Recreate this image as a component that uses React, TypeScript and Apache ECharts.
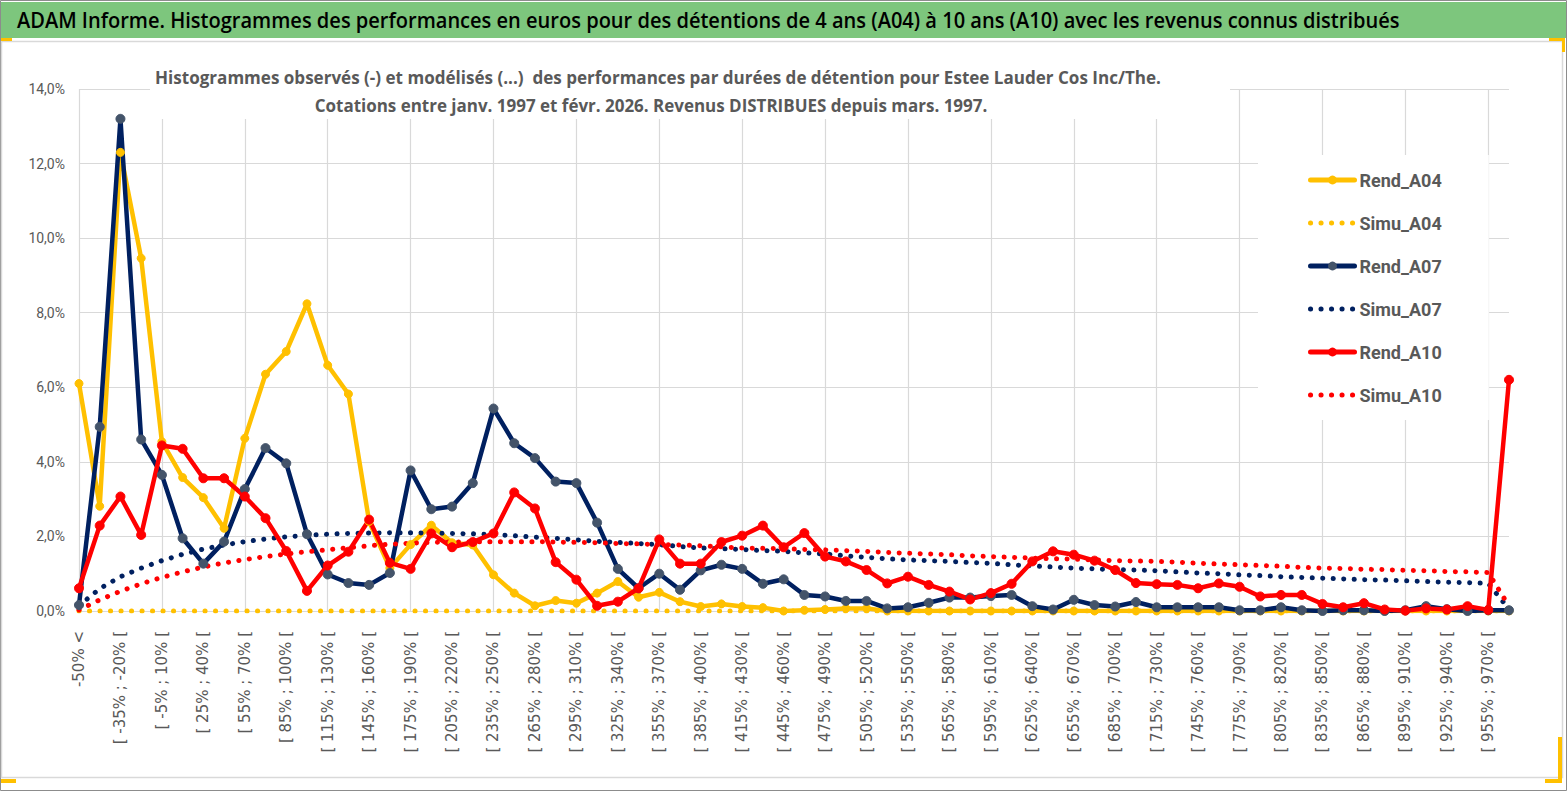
import React, { useEffect, useRef } from "react";
import * as echarts from "echarts";

// ---------- DATA ----------
const BIN_START = -50;
const BIN_STEP = 15;
const BIN_COUNT = 68;
const FIRST_LABEL = "-50% <";
const LAST_LABEL = "970% >";
const CATEGORIES: string[] = [
  FIRST_LABEL,
  ...Array.from({ length: BIN_COUNT }, (_, k) => `[ ${BIN_START + k * BIN_STEP}% ; ${BIN_START + (k + 1) * BIN_STEP}% [`),
  LAST_LABEL,
];

const Y_MIN = 0;
const Y_MAX = 14;
const Y_STEP = 2;

const REND_A04 = [
  6.10, 2.81, 12.3, 9.46, 4.54, 3.58, 3.04, 2.22, 4.63, 6.35,
  6.96, 8.24, 6.59, 5.82, 2.40, 1.15, 1.78, 2.30, 1.83, 1.77,
  0.97, 0.48, 0.14, 0.28, 0.21, 0.48, 0.79, 0.37, 0.50, 0.25,
  0.12, 0.19, 0.12, 0.09, 0.00, 0.02, 0.04, 0.07, 0.07, 0.00,
  0.00, 0.00, 0.00, 0.00, 0.00, 0.00, 0.00, 0.00, 0.00, 0.00,
  0.00, 0.00, 0.00, 0.00, 0.00, 0.00, 0.00, 0.00, 0.00, 0.00,
  0.00, 0.00, 0.00, 0.00, 0.00, 0.00, 0.00, 0.00, 0.00, 0.00,
];
const SIMU_A04 = [
  0, 0, 0, 0, 0, 0, 0, 0, 0, 0,
  0, 0, 0, 0, 0, 0, 0, 0, 0, 0,
  0, 0, 0, 0, 0, 0, 0, 0, 0, 0,
  0, 0, 0, 0, 0, 0, 0, 0, 0, 0,
  0, 0, 0, 0, 0, 0, 0, 0, 0, 0,
  0, 0, 0, 0, 0, 0, 0, 0, 0, 0,
  0, 0, 0, 0, 0, 0, 0, 0, 0, 0,
];
const REND_A07 = [
  0.16, 4.94, 13.2, 4.60, 3.65, 1.95, 1.27, 1.86, 3.27, 4.37,
  3.96, 2.06, 0.98, 0.75, 0.70, 1.02, 3.77, 2.73, 2.80, 3.43,
  5.43, 4.50, 4.10, 3.47, 3.43, 2.37, 1.13, 0.61, 1.00, 0.57,
  1.09, 1.24, 1.13, 0.73, 0.85, 0.43, 0.39, 0.27, 0.27, 0.07,
  0.10, 0.22, 0.36, 0.36, 0.40, 0.43, 0.13, 0.04, 0.30, 0.16,
  0.12, 0.24, 0.10, 0.10, 0.10, 0.10, 0.02, 0.02, 0.10, 0.02,
  0.00, 0.02, 0.02, 0.00, 0.02, 0.13, 0.05, 0.00, 0.02, 0.02,
];
const SIMU_A07 = [
  0.14, 0.60, 0.92, 1.15, 1.35, 1.52, 1.66, 1.77, 1.86, 1.93,
  1.99, 2.03, 2.06, 2.08, 2.09, 2.10, 2.10, 2.09, 2.08, 2.07,
  2.05, 2.02, 1.98, 1.95, 1.91, 1.87, 1.84, 1.81, 1.78, 1.73,
  1.69, 1.67, 1.65, 1.62, 1.60, 1.56, 1.53, 1.48, 1.44, 1.40,
  1.37, 1.35, 1.33, 1.30, 1.28, 1.24, 1.21, 1.18, 1.15, 1.13,
  1.11, 1.10, 1.08, 1.05, 1.02, 1.00, 0.97, 0.95, 0.92, 0.90,
  0.88, 0.86, 0.84, 0.83, 0.81, 0.79, 0.77, 0.76, 0.74, 0.05,
];
const REND_A10 = [
  0.61, 2.29, 3.07, 2.04, 4.44, 4.35, 3.56, 3.56, 3.07, 2.49,
  1.61, 0.54, 1.22, 1.59, 2.45, 1.29, 1.13, 2.08, 1.71, 1.85,
  2.08, 3.18, 2.75, 1.31, 0.84, 0.14, 0.25, 0.61, 1.92, 1.27,
  1.27, 1.85, 2.02, 2.29, 1.71, 2.09, 1.46, 1.33, 1.10, 0.74,
  0.92, 0.70, 0.52, 0.31, 0.48, 0.73, 1.33, 1.60, 1.51, 1.35,
  1.10, 0.75, 0.72, 0.70, 0.61, 0.74, 0.65, 0.39, 0.43, 0.43,
  0.19, 0.10, 0.21, 0.04, 0.01, 0.07, 0.04, 0.13, 0.03, 6.20,
];
const SIMU_A10 = [
  0.03, 0.30, 0.53, 0.73, 0.90, 1.05, 1.18, 1.29, 1.38, 1.46,
  1.53, 1.59, 1.64, 1.70, 1.75, 1.79, 1.82, 1.84, 1.85, 1.86,
  1.86, 1.86, 1.86, 1.85, 1.84, 1.83, 1.81, 1.80, 1.78, 1.77,
  1.75, 1.72, 1.69, 1.68, 1.67, 1.65, 1.64, 1.62, 1.60, 1.57,
  1.55, 1.53, 1.51, 1.48, 1.46, 1.44, 1.42, 1.40, 1.39, 1.37,
  1.35, 1.34, 1.33, 1.31, 1.28, 1.26, 1.24, 1.22, 1.20, 1.17,
  1.15, 1.14, 1.12, 1.11, 1.09, 1.08, 1.06, 1.05, 1.03, 0.13,
];

const MAIN_TITLE =
  "ADAM Informe. Histogrammes des performances en euros pour des détentions de 4 ans (A04) à 10 ans (A10) avec les revenus connus distribués";
const SUB_LINE_1 =
  "Histogrammes observés (-) et modélisés (...)  des performances par durées de détention pour Estee Lauder Cos Inc/The.";
const SUB_LINE_2 = "Cotations entre janv. 1997 et févr. 2026. Revenus DISTRIBUES depuis mars. 1997.";

// ---------- STYLE ----------
const W = 1567;
const H = 791;
const YELLOW = "#FFC000";
const NAVY = "#002060";
const NAVY_MARK = "#44546A";
const RED = "#FF0000";
const GRID = "#d9d9d9";
const TEXT = "#595959";
const DOT: number[] = [0.1, 10.4];

function measure(text: string, font: string): number {
  const ctx = document.createElement("canvas").getContext("2d");
  if (!ctx) return 1;
  ctx.font = font;
  return ctx.measureText(text).width || 1;
}

function fittedText(text: string, x: number, y: number, width: number, size: number, weight: string, color: string, align: string) {
  const family = "Open Sans";
  const w = measure(text, `${weight} ${size}px "${family}"`);
  return {
    type: "text",
    x,
    y,
    scaleX: width / w,
    z: 20,
    style: {
      text,
      fontFamily: family,
      fontSize: size,
      fontWeight: weight,
      fill: color,
      align,
      verticalAlign: "middle",
    },
  };
}

function solidSeries(name: string, data: number[], line: string, mark: string, size: number) {
  return {
    name,
    type: "line",
    data,
    symbol: "circle",
    symbolSize: size,
    lineStyle: { color: line, width: 4.5, join: "round", cap: "round" },
    itemStyle: { color: mark, borderColor: mark },
    z: 3,
  };
}

function dottedSeries(name: string, data: number[], color: string) {
  return {
    name,
    type: "line",
    data,
    symbol: "none",
    showSymbol: false,
    lineStyle: { color, width: 5, type: DOT, cap: "round" },
    itemStyle: { color },
    z: 3,
  };
}

export default function App() {
  const ref = useRef<HTMLDivElement>(null);

  useEffect(() => {
    document.body.style.margin = "0";
    if (!ref.current) return;
    const chart = echarts.init(ref.current, undefined, { renderer: "svg", width: W, height: H });

    const graphic: any[] = [
      { type: "rect", z: -10, shape: { x: 0.5, y: 0.5, width: W - 1, height: H - 1 }, style: { fill: "#fff", stroke: "#8c8c8c", lineWidth: 1 } },
      { type: "rect", z: -9, shape: { x: 1, y: 2, width: W - 2, height: 36 }, style: { fill: "#7dc67d" } },
      { type: "rect", z: -9, shape: { x: 1.5, y: 41.5, width: 1561, height: 736 }, style: { fill: "none", stroke: GRID, lineWidth: 1.5 } },
      { type: "rect", z: -8, shape: { x: 1, y: 38, width: 11, height: 3 }, style: { fill: YELLOW } },
      { type: "rect", z: -8, shape: { x: 1549, y: 38, width: 16, height: 3 }, style: { fill: YELLOW } },
      { type: "rect", z: -8, shape: { x: 1562, y: 38, width: 3, height: 14 }, style: { fill: YELLOW } },
      { type: "rect", z: -8, shape: { x: 1, y: 779, width: 15, height: 4 }, style: { fill: YELLOW } },
      { type: "rect", z: -8, shape: { x: 1558, y: 737, width: 4, height: 46 }, style: { fill: YELLOW } },
      { type: "rect", z: -8, shape: { x: 1545, y: 779, width: 17, height: 4 }, style: { fill: YELLOW } },
      { type: "rect", z: 1, shape: { x: 150, y: 50, width: 1080, height: 69 }, style: { fill: "#fff" } },
      fittedText(MAIN_TITLE, 17, 20, 1383, 21, "600", "#000", "left"),
      fittedText(SUB_LINE_1, 658, 77, 1007, 18, "bold", TEXT, "center"),
      fittedText(SUB_LINE_2, 651, 105, 673, 18, "bold", TEXT, "center"),
    ];

    const hidden = { opacity: 0 };

    chart.setOption({
      animation: false,
      backgroundColor: "transparent",
      graphic,
      legend: {
        orient: "vertical",
        left: 1258,
        top: 155,
        backgroundColor: "#fff",
        padding: [16, 47, 16, 50],
        itemGap: 25,
        itemWidth: 44,
        itemHeight: 11,
        lineStyle: { width: 5 },
        textStyle: { color: TEXT, fontSize: 18, fontWeight: "bold", fontFamily: "Roboto" },
        data: [
          { name: "Rend_A04" },
          { name: "Simu_A04", itemStyle: hidden },
          { name: "Rend_A07" },
          { name: "Simu_A07", itemStyle: hidden },
          { name: "Rend_A10" },
          { name: "Simu_A10", itemStyle: hidden },
        ],
      },
      grid: { left: 79, right: W - 1509, top: 89, bottom: H - 611, containLabel: false },
      xAxis: {
        type: "category",
        data: CATEGORIES,
        boundaryGap: false,
        axisTick: { show: false },
        axisLine: { show: true, lineStyle: { color: GRID, width: 1 } },
        axisLabel: {
          interval: 1,
          rotate: 90,
          margin: 20,
          color: TEXT,
          fontSize: 15,
          fontFamily: "DejaVu Sans",
        },
        splitLine: { show: true, interval: 3, lineStyle: { color: GRID, width: 1.2 } },
      },
      yAxis: {
        type: "value",
        min: Y_MIN,
        max: Y_MAX,
        interval: Y_STEP,
        axisLine: { show: false },
        axisTick: { show: false },
        axisLabel: {
          margin: 14,
          color: TEXT,
          fontSize: 14,
          fontFamily: "Roboto",
          formatter: (v: number) => v.toFixed(1).replace(".", ",") + "%",
        },
        splitLine: { show: true, lineStyle: { color: GRID, width: 1.2 } },
      },
      series: [
        solidSeries("Rend_A04", REND_A04, YELLOW, YELLOW, 8),
        dottedSeries("Simu_A04", SIMU_A04, YELLOW),
        solidSeries("Rend_A07", REND_A07, NAVY, NAVY_MARK, 9),
        dottedSeries("Simu_A07", SIMU_A07, NAVY),
        solidSeries("Rend_A10", REND_A10, RED, RED, 9),
        dottedSeries("Simu_A10", SIMU_A10, RED),
      ],
    });

    return () => chart.dispose();
  }, []);

  return <div ref={ref} style={{ width: W, height: H, position: "absolute", left: 0, top: 0 }} />;
}
